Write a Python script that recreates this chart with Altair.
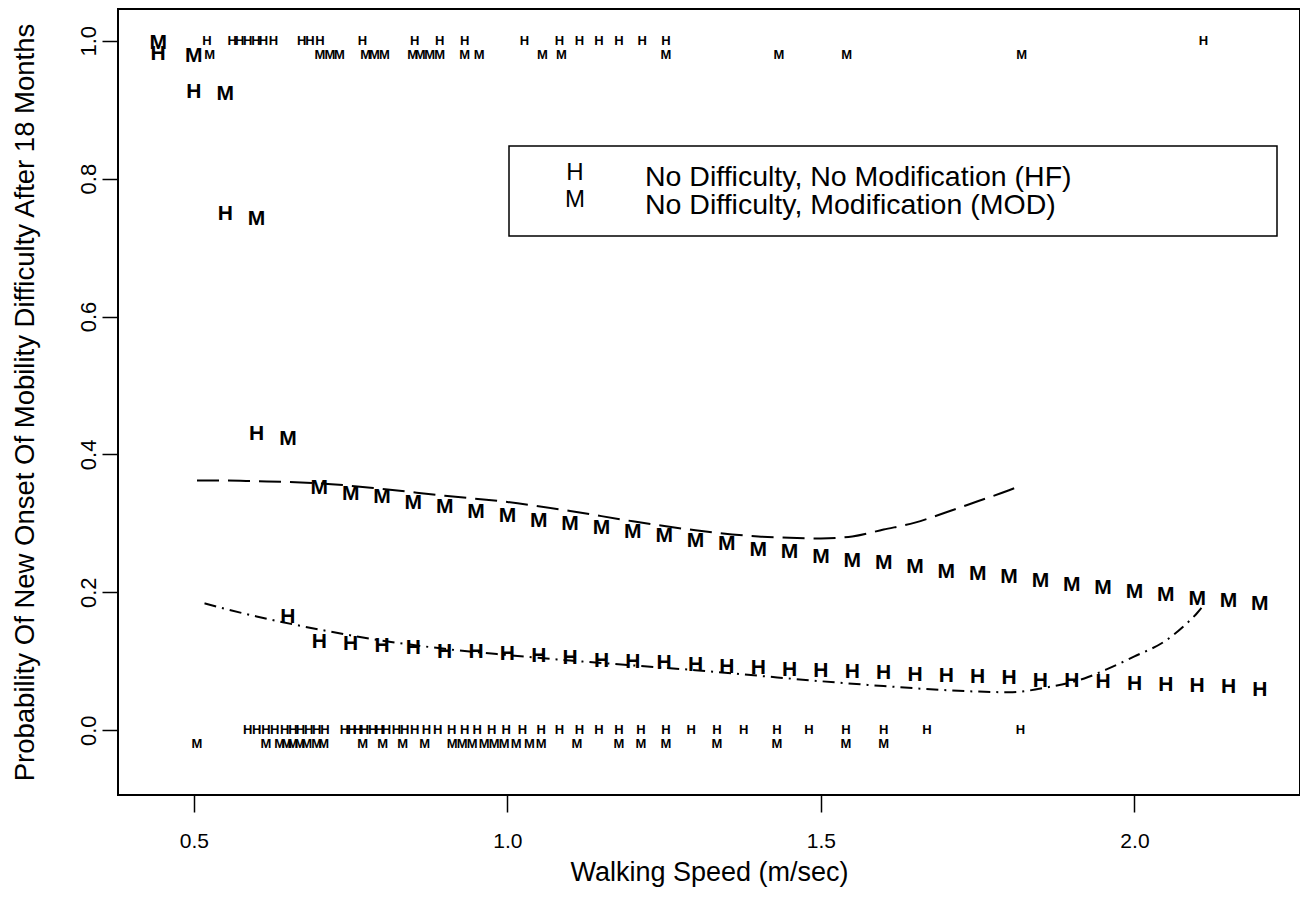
import altair as alt
import pandas as pd

# ---------------- data ----------------
# grid of walking speeds where the fitted probabilities are printed as letters
grid_x = [0.443, 0.50, 0.55, 0.60, 0.65, 0.70, 0.75, 0.80, 0.85, 0.90, 0.95, 1.00,
          1.05, 1.10, 1.15, 1.20, 1.25, 1.30, 1.35, 1.40, 1.45, 1.50, 1.55, 1.60,
          1.65, 1.70, 1.75, 1.80, 1.85, 1.90, 1.95, 2.00, 2.05, 2.10, 2.15, 2.20]
hf_prob = [0.981, 0.925, 0.748, 0.430, 0.164, 0.128, 0.125, 0.122, 0.119, 0.114,
           0.113, 0.110, 0.107, 0.104, 0.101, 0.099, 0.097, 0.094, 0.091, 0.090,
           0.088, 0.086, 0.084, 0.083, 0.080, 0.078, 0.077, 0.075, 0.072, 0.071,
           0.070, 0.067, 0.065, 0.064, 0.062, 0.059]
mod_prob = [0.997, 0.978, 0.922, 0.742, 0.422, 0.351, 0.343, 0.338, 0.330, 0.323,
            0.316, 0.310, 0.304, 0.299, 0.293, 0.287, 0.281, 0.275, 0.270, 0.262,
            0.258, 0.251, 0.246, 0.242, 0.236, 0.230, 0.226, 0.222, 0.217, 0.210,
            0.206, 0.201, 0.196, 0.191, 0.187, 0.183]

# observed subjects: walking speed of those with (1) and without (0) new difficulty
hf_event_x = [0.521, 0.561, 0.573, 0.586, 0.599, 0.611, 0.627, 0.672, 0.685, 0.701,
              0.769, 0.852, 0.892, 0.932, 1.027, 1.083, 1.115, 1.146, 1.178, 1.215,
              1.253, 2.110]
mod_event_x = [0.525, 0.701, 0.717, 0.732, 0.774, 0.788, 0.804, 0.849, 0.861, 0.876,
               0.892, 0.932, 0.955, 1.056, 1.086, 1.253, 1.433, 1.541, 1.820]
hf_none_x = [0.586, 0.600, 0.615, 0.629, 0.645, 0.658, 0.670, 0.683, 0.696, 0.709,
             0.740, 0.752, 0.761, 0.772, 0.785, 0.796, 0.807, 0.823, 0.836, 0.852,
             0.871, 0.889, 0.911, 0.932, 0.952, 0.975, 0.998, 1.024, 1.054, 1.083,
             1.115, 1.146, 1.178, 1.213, 1.253, 1.293, 1.334, 1.377, 1.430, 1.481,
             1.540, 1.600, 1.669, 1.818]
mod_none_x = [0.505, 0.615, 0.637, 0.648, 0.658, 0.669, 0.680, 0.696, 0.707, 0.769,
              0.801, 0.833, 0.868, 0.912, 0.928, 0.944, 0.963, 0.979, 0.995, 1.014,
              1.035, 1.054, 1.111, 1.178, 1.213, 1.253, 1.334, 1.430, 1.540, 1.600]
mod_offset = -0.02   # MOD observations are printed slightly below the HF ones

# smoothed curves
mod_curve_x = [0.505, 0.55, 0.60, 0.65, 0.70, 0.80, 0.90, 1.00, 1.10, 1.20, 1.30,
               1.40, 1.45, 1.50, 1.55, 1.60, 1.65, 1.70, 1.75, 1.80, 1.82]
mod_curve_y = [0.362, 0.362, 0.361, 0.360, 0.358, 0.350, 0.340, 0.331, 0.318, 0.303,
               0.290, 0.281, 0.279, 0.278, 0.281, 0.291, 0.301, 0.316, 0.332, 0.348,
               0.355]
hf_curve_x = [0.517, 0.55, 0.60, 0.64, 0.70, 0.80, 0.90, 1.00, 1.10, 1.20, 1.30, 1.40,
              1.50, 1.60, 1.70, 1.75, 1.80, 1.86, 1.92, 1.96, 2.00, 2.05, 2.08, 2.10,
              2.11]
hf_curve_y = [0.184, 0.176, 0.165, 0.157, 0.146, 0.130, 0.118, 0.109, 0.101, 0.094,
              0.087, 0.079, 0.071, 0.064, 0.058, 0.056, 0.055, 0.062, 0.075, 0.090,
              0.107, 0.130, 0.152, 0.170, 0.181]

legend_keys = ["H", "M"]
legend_labels = ["No Difficulty, No Modification (HF)",
                 "No Difficulty, Modification (MOD)"]

x_ticks = [0.5, 1.0, 1.5, 2.0]
y_ticks = [0.0, 0.2, 0.4, 0.6, 0.8, 1.0]
x_title = "Walking Speed (m/sec)"
y_title = "Probability Of New Onset Of Mobility Difficulty After 18 Months"

# ---------------- tables ----------------
fit_df = pd.DataFrame({
    "x": grid_x * 2,
    "y": hf_prob + mod_prob,
    "lab": ["H"] * len(grid_x) + ["M"] * len(grid_x),
})
obs_df = pd.DataFrame({
    "x": hf_event_x + mod_event_x + hf_none_x + mod_none_x,
    "y": [1.0] * len(hf_event_x) + [1.0 + mod_offset] * len(mod_event_x)
         + [0.0] * len(hf_none_x) + [0.0 + mod_offset] * len(mod_none_x),
    "lab": ["H"] * len(hf_event_x) + ["M"] * len(mod_event_x)
           + ["H"] * len(hf_none_x) + ["M"] * len(mod_none_x),
})
mod_line_df = pd.DataFrame({"x": mod_curve_x, "y": mod_curve_y})
hf_line_df = pd.DataFrame({"x": hf_curve_x, "y": hf_curve_y})

FONT = "Liberation Sans"
W, H = 1182, 786
xs = alt.Scale(domain=[0.379, 2.264], nice=False, zero=False)
ys = alt.Scale(domain=[-0.094, 1.046], nice=False, zero=False)

x_axis = alt.Axis(values=x_ticks, format=".1f", title=x_title, grid=False, domain=False,
                  ticks=True, tickSize=17, tickWidth=1.5, tickColor="black",
                  labelFont=FONT, labelFontSize=21, labelColor="black", labelPadding=18,
                  titleFont=FONT, titleFontSize=27, titleFontWeight="normal",
                  titleColor="black", titleX=W / 2, titleY=77, titleAlign="center",
                  titleBaseline="middle")
y_axis = alt.Axis(values=y_ticks, format=".1f", title=y_title, grid=False, domain=False,
                  ticks=True, tickSize=16, tickWidth=1.5, tickColor="black",
                  labelFont=FONT, labelFontSize=22, labelColor="black", labelAngle=270,
                  labelAlign="center", labelBaseline="bottom", labelPadding=2,
                  titleFont=FONT, titleFontSize=27.5, titleFontWeight="normal",
                  titleColor="black", titleAngle=270, titleX=-93, titleY=H / 2,
                  titleAlign="center", titleBaseline="middle")

X = alt.X("x:Q", scale=xs, axis=x_axis)
Y = alt.Y("y:Q", scale=ys, axis=y_axis)

fit_layer = alt.Chart(fit_df).mark_text(
    font=FONT, fontSize=21, fontWeight="bold", color="black", align="center",
    baseline="middle"
).encode(x=X, y=Y, text="lab:N")

obs_layer = alt.Chart(obs_df).mark_text(
    font=FONT, fontSize=13, fontWeight="bold", color="black", align="center",
    baseline="middle"
).encode(x=X, y=Y, text="lab:N")

mod_line = alt.Chart(mod_line_df).mark_line(
    color="black", strokeWidth=2, strokeDash=[22, 9], interpolate="monotone"
).encode(x=X, y=Y)
hf_line = alt.Chart(hf_line_df).mark_line(
    color="black", strokeWidth=2, strokeDash=[12, 6, 2, 6], interpolate="monotone"
).encode(x=X, y=Y)

# legend box (R-style legend drawn inside the plot)
legend_box = alt.Chart(pd.DataFrame({"k": [0]})).mark_rect(
    fill="white", stroke="black", strokeWidth=1.5
).encode(
    x=alt.value(391), x2=alt.value(1159), y=alt.value(137), y2=alt.value(227)
)
legend_layers = []
for i, (k, lab) in enumerate(zip(legend_keys, legend_labels)):
    row_df = pd.DataFrame({"key": [k], "label": [lab]})
    legend_layers.append(
        alt.Chart(row_df).mark_text(
            font=FONT, fontSize=24, color="black", align="center", baseline="middle"
        ).encode(x=alt.value(457), y=alt.value(164 + 27 * i), text="key:N")
    )
    legend_layers.append(
        alt.Chart(row_df).mark_text(
            font=FONT, fontSize=28.5, color="black", align="left", baseline="middle"
        ).encode(x=alt.value(527), y=alt.value(168 + 28 * i), text="label:N")
    )

chart = alt.layer(
    fit_layer, obs_layer, mod_line, hf_line, legend_box, *legend_layers
).properties(
    width=W, height=H,
    autosize=alt.AutoSizeParams(type="none"),
    padding={"left": 110, "top": 1, "right": 0, "bottom": 110},
    background="white",
).configure_view(
    stroke="black", strokeWidth=2
)

chart.save("out.html", embed_options={"renderer": "svg", "actions": False})
